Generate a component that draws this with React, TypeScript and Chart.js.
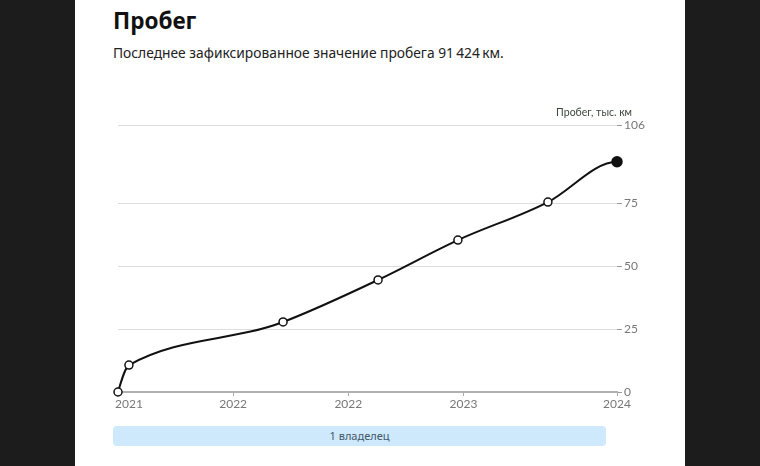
import React, { useEffect, useRef } from "react";
import { Chart, registerables } from "chart.js";

Chart.register(...registerables);

const years: number[] = [2021.4, 2021.457, 2022.26, 2022.755, 2023.171, 2023.64, 2024.0];
const mileage: number[] = [0, 10.7, 27.8, 44.5, 60.3, 75.4, 91.424];
const xTickValues: number[] = [2021.4, 2022.0, 2022.6, 2023.2, 2024.0];
const xTickLabels: string[] = ["2021", "2022", "2022", "2023", "2024"];
const yTickValues: number[] = [0, 25, 50, 75, 106];
const owners: string[] = ["1 владелец"];

const TITLE = "Пробег";
const SUBTITLE = "Последнее зафиксированное значение пробега 91\u2009424\u2009км.";
const Y_TITLE = "Пробег, тыс. км";

function sign(v: number) {
  return v < 0 ? -1 : 1;
}

// monotone-X (d3 style) control points, computed from the point elements' pixels
const monotonePlugin = {
  id: "monotoneX",
  beforeDatasetDraw(chart: any, args: any) {
    const meta = args.meta;
    const line = meta.dataset;
    if (line && line.updateControlPoints) line.updateControlPoints(chart.chartArea, meta.iAxis);
    const pts = meta.data;
    const n = pts.length;
    if (n < 3) return;
    const h: number[] = [];
    const s: number[] = [];
    for (let i = 0; i < n - 1; i++) {
      h.push(pts[i + 1].x - pts[i].x);
      s.push((pts[i + 1].y - pts[i].y) / (pts[i + 1].x - pts[i].x));
    }
    const t: number[] = new Array(n).fill(0);
    for (let i = 1; i < n - 1; i++) {
      const s0 = s[i - 1];
      const s1 = s[i];
      const p = (s0 * h[i] + s1 * h[i - 1]) / (h[i - 1] + h[i]);
      t[i] = (sign(s0) + sign(s1)) * Math.min(Math.abs(s0), Math.abs(s1), 0.5 * Math.abs(p)) || 0;
    }
    t[0] = (3 * s[0] - t[1]) / 2;
    t[n - 1] = 0;
    for (let i = 0; i < n - 1; i++) {
      const d = h[i] / 3;
      pts[i].cp2x = pts[i].x + d;
      pts[i].cp2y = pts[i].y + t[i] * d;
      pts[i + 1].cp1x = pts[i + 1].x - d;
      pts[i + 1].cp1y = pts[i + 1].y - t[i + 1] * d;
    }
    pts[0].cp1x = pts[0].x;
    pts[0].cp1y = pts[0].y;
    pts[n - 1].cp2x = pts[n - 1].x;
    pts[n - 1].cp2y = pts[n - 1].y;
    if (line) line._path = undefined;
  },
};

export default function App() {
  const canvasRef = useRef<HTMLCanvasElement | null>(null);

  useEffect(() => {
    const canvas = canvasRef.current;
    if (!canvas) return;
    const n = mileage.length;
    const labelsPlugin = {
      id: "customLabels",
      afterDraw(chart: any) {
        const ctx = chart.ctx;
        const xs = chart.scales.x;
        const area = chart.chartArea;
        ctx.save();
        ctx.font = "12px Lato";
        ctx.fillStyle = "#777";
        ctx.textBaseline = "top";
        xTickValues.forEach((v, i) => {
          const px = xs.getPixelForValue(v);
          if (i === 0) {
            ctx.textAlign = "left";
            ctx.fillText(xTickLabels[i], px - 3, area.bottom + 6);
          } else {
            ctx.textAlign = "center";
            ctx.fillText(xTickLabels[i], px, area.bottom + 6);
          }
        });
        ctx.font = "10.5px Lato";
        ctx.fillStyle = "#3a463a";
        ctx.textAlign = "right";
        ctx.textBaseline = "middle";
        ctx.fillText(Y_TITLE, area.right + 15, area.top - 12);
        ctx.restore();
      },
    };

    const chart = new Chart(canvas, {
      type: "line",
      data: {
        datasets: [
          {
            data: years.map((x, i) => ({ x, y: mileage[i] })),
            borderColor: "#111",
            borderWidth: 2,
            cubicInterpolationMode: "monotone",
            pointRadius: mileage.map((_, i) => (i === n - 1 ? 5 : 4)),
            pointBackgroundColor: mileage.map((_, i) => (i === n - 1 ? "#111" : "#fff")),
            pointBorderColor: "#111",
            pointBorderWidth: 1.5,
            clip: false as any,
          } as any,
        ],
      },
      options: {
        responsive: false,
        animation: false,
        devicePixelRatio: 1,
        layout: { padding: { left: 43, top: 35, right: 0, bottom: 0 } },
        plugins: { legend: { display: false }, tooltip: { enabled: false } },
        scales: {
          x: {
            type: "linear",
            min: xTickValues[0],
            max: xTickValues[xTickValues.length - 1],
            afterBuildTicks: (scale: any) => {
              scale.ticks = xTickValues.map((v) => ({ value: v }));
            },
            afterFit: (scale: any) => {
              scale.height = 38;
            },
            ticks: { display: false },
            grid: {
              drawOnChartArea: false,
              drawTicks: true,
              tickLength: 4,
              tickColor: "#aaa",
              color: "#aaa",
            },
            border: { display: true, color: "#b0b0b0", width: 2 },
          },
          y: {
            type: "linear",
            position: "right",
            min: 0,
            max: 106,
            afterBuildTicks: (scale: any) => {
              scale.ticks = yTickValues.map((v) => ({ value: v }));
            },
            afterFit: (scale: any) => {
              scale.width = 68;
            },
            ticks: {
              padding: 2,
              color: "#777",
              font: { family: "Lato", size: 12 },
              callback: (v: any) => String(v),
            },
            grid: {
              color: "#dedede",
              drawTicks: true,
              tickLength: 5,
              tickColor: "#999",
            },
            border: { display: false },
          },
        },
      } as any,
      plugins: [monotonePlugin, labelsPlugin],
    });
    return () => chart.destroy();
  }, []);

  return (
    <div
      style={{
        position: "absolute",
        top: 0,
        left: 0,
        width: 760,
        height: 466,
        background: "#1c1c1c",
        overflow: "hidden",
      }}
    >
      <div
        style={{
          position: "absolute",
          left: 75,
          top: 0,
          width: 610,
          height: 466,
          background: "#fff",
        }}
      >
        <div
          style={{
            position: "absolute",
            left: 38,
            top: 6,
            fontFamily: "'Noto Sans', sans-serif",
            fontWeight: 700,
            fontSize: 22.5,
            lineHeight: "30px",
            color: "#111",
            whiteSpace: "nowrap",
          }}
        >
          {TITLE}
        </div>
        <div
          style={{
            position: "absolute",
            left: 38,
            top: 43,
            fontFamily: "'Noto Sans', sans-serif",
            fontSize: 13.8,
            lineHeight: "20px",
            color: "#222",
            whiteSpace: "nowrap",
          }}
        >
          {SUBTITLE}
        </div>
        <canvas
          ref={canvasRef}
          width={610}
          height={340}
          style={{ position: "absolute", left: 0, top: 90, width: 610, height: 340 }}
        />
        {owners.map((o) => (
          <div
            key={o}
            style={{
              position: "absolute",
              left: 38,
              top: 426,
              width: 493,
              height: 20,
              background: "#cde9fb",
              borderRadius: 4,
              fontFamily: "'Noto Sans', sans-serif",
              fontSize: 11,
              lineHeight: "20px",
              textAlign: "center",
              color: "#44576a",
            }}
          >
            {o}
          </div>
        ))}
      </div>
    </div>
  );
}
